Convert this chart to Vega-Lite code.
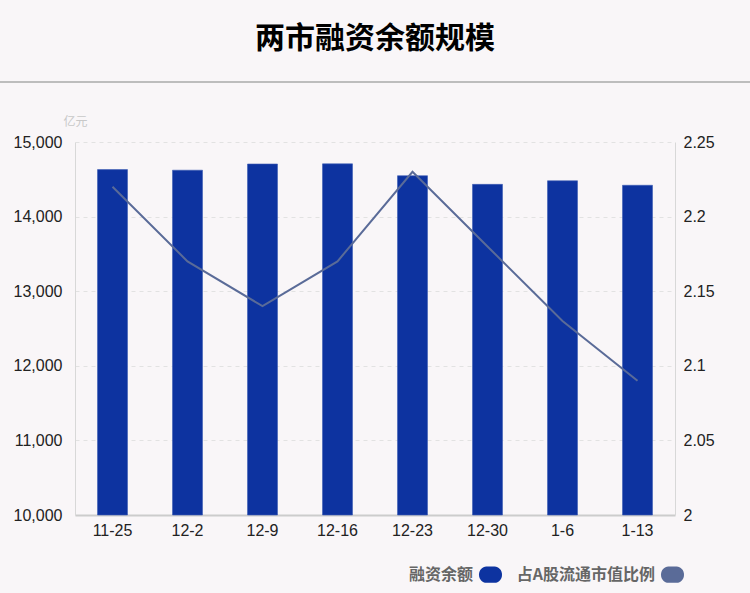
{
  "$schema": "https://vega.github.io/schema/vega-lite/v6.json",
  "width": 600,
  "height": 373,
  "autosize": {"type": "none"},
  "padding": {"left": 75, "top": 142, "right": 75, "bottom": 78},
  "background": "#f9f6f8",
  "title": {
    "text": "两市融资余额规模",
    "font": "Noto Sans CJK SC",
    "fontSize": 30,
    "fontWeight": "bold",
    "color": "#000000",
    "anchor": "middle",
    "offset": 27
  },
  "config": {
    "view": {"stroke": null},
    "font": "Liberation Sans"
  },
  "data": {
    "values": [
      {"date": "11-25", "balance": 14630, "ratio": 2.22},
      {"date": "12-2", "balance": 14622, "ratio": 2.17},
      {"date": "12-9", "balance": 14705, "ratio": 2.14},
      {"date": "12-16", "balance": 14707, "ratio": 2.17},
      {"date": "12-23", "balance": 14548, "ratio": 2.23},
      {"date": "12-30", "balance": 14432, "ratio": 2.18},
      {"date": "1-6", "balance": 14480, "ratio": 2.13},
      {"date": "1-13", "balance": 14420, "ratio": 2.09}
    ]
  },
  "encoding": {
    "x": {
      "field": "date",
      "type": "nominal",
      "sort": null,
      "scale": {"paddingInner": 0.6, "paddingOuter": 0.3},
      "axis": {
        "title": null,
        "labelAngle": 0,
        "labelFontSize": 16,
        "labelColor": "#222222",
        "labelPadding": 7,
        "ticks": false,
        "domainColor": "#cccccc",
        "domainWidth": 2
      }
    }
  },
  "layer": [
    {
      "mark": {"type": "bar", "color": "#0d33a0", "stroke": "#3d5cb4", "strokeWidth": 0.6},
      "encoding": {
        "y": {
          "field": "balance",
          "type": "quantitative",
          "scale": {"domain": [10000, 15000], "nice": false, "zero": false},
          "axis": {
            "orient": "left",
            "values": [10000, 11000, 12000, 13000, 14000, 15000],
            "format": ",d",
            "labelFontSize": 16,
            "labelColor": "#222222",
            "labelPadding": 13,
            "ticks": false,
            "domainColor": "#d8d8d8",
            "grid": true,
            "gridColor": "#e2e2e2",
            "gridDash": [4, 4],
            "title": "亿元",
            "titleFont": "Noto Sans CJK SC",
            "titleAngle": 0,
            "titleColor": "#c8c8c8",
            "titleFontSize": 12,
            "titleFontWeight": "normal",
            "titleX": 0,
            "titleY": -21,
            "titleAlign": "center",
            "titleBaseline": "middle"
          }
        },
        "y2": {"datum": 10000},
        "color": {
          "datum": "融资余额",
          "type": "nominal",
          "scale": {
            "domain": ["融资余额", "占A股流通市值比例"],
            "range": ["#0d33a0", "#5a6b98"]
          },
          "legend": {
            "title": null,
            "orient": "none",
            "legendX": 399,
            "legendY": 416,
            "direction": "horizontal",
            "symbolType": "M-0.25,-0.5H0.25A0.45,0.5 0 0 1 0.25,0.5H-0.25A0.45,0.5 0 0 1 -0.25,-0.5Z",
            "symbolSize": 1080,
            "symbolStrokeWidth": 0,
            "labelAlign": "right",
            "labelOffset": -34,
            "labelFont": "Noto Sans CJK SC",
            "labelFontSize": 16,
            "labelFontWeight": "bold",
            "labelColor": "#666666",
            "labelLimit": 300,
            "columnPadding": 13,
            "encode": {
              "symbols": {
                "update": {
                  "fill": {"scale": "color", "field": "value"},
                  "fillOpacity": {"value": 1},
                  "stroke": {"value": "transparent"}
                }
              }
            }
          }
        }
      }
    },
    {
      "mark": {"type": "line", "strokeWidth": 2},
      "encoding": {
        "y": {
          "field": "ratio",
          "type": "quantitative",
          "scale": {"domain": [2, 2.25], "nice": false, "zero": false},
          "axis": {
            "orient": "right",
            "values": [2, 2.05, 2.1, 2.15, 2.2, 2.25],
            "format": ".3~g",
            "labelFontSize": 16,
            "labelColor": "#222222",
            "labelPadding": 8,
            "ticks": false,
            "domainColor": "#d8d8d8",
            "grid": false,
            "title": null
          }
        },
        "color": {"datum": "占A股流通市值比例", "type": "nominal"}
      }
    },
    {
      "mark": {"type": "rule", "color": "#bdbdbd", "strokeWidth": 2},
      "encoding": {
        "x": {"value": -75},
        "x2": {"value": 675},
        "y": {"value": -60}
      }
    }
  ],
  "resolve": {"scale": {"y": "independent"}}
}
